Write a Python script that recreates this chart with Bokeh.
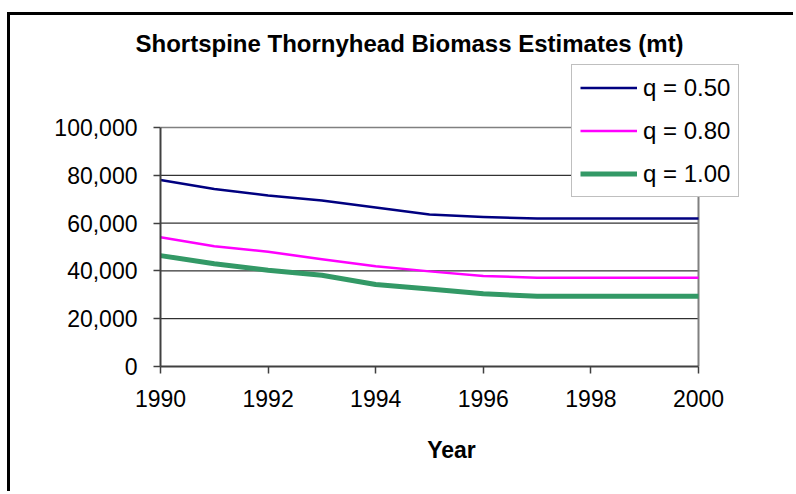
from bokeh.plotting import figure
from bokeh.models import (Legend, LegendItem, FixedTicker, ColumnDataSource,
                          Range1d)
from bokeh.embed import file_html
from bokeh.resources import INLINE

# ---- data ----
years = [1990, 1991, 1992, 1993, 1994, 1995, 1996, 1997, 1998, 1999, 2000]
q050 = [78000, 74300, 71500, 69500, 66500, 63600, 62600, 61900, 61900, 61900, 61900]
q080 = [54100, 50300, 48000, 44900, 41900, 39800, 37900, 37100, 37100, 37100, 37100]
q100 = [46400, 43000, 40300, 38200, 34300, 32400, 30400, 29400, 29400, 29400, 29400]

series_names = ["q = 0.50", "q = 0.80", "q = 1.00"]
x_ticks = [1990, 1992, 1994, 1996, 1998, 2000]
x_tick_labels = ["1990", "1992", "1994", "1996", "1998", "2000"]
y_ticks = [0, 20000, 40000, 60000, 80000, 100000]
y_tick_labels = ["0", "20,000", "40,000", "60,000", "80,000", "100,000"]
grid_ticks = [20000, 40000, 60000, 80000]

title_text = "Shortspine Thornyhead Biomass Estimates (mt)"
x_label = "Year"

FONT = "Liberation Sans"

# ---- layout (pixels) ----
W, H = 786, 479
FR_L, FR_R, FR_T, FR_B = 150, 732, 49, 351      # frame in canvas pixels
PA_R, PA_T = 688, 112                           # plot-area right / top in canvas px

x0, x1 = x_ticks[0], x_ticks[-1]
y0, y1 = y_ticks[0], y_ticks[-1]
x_end = x0 + (x1 - x0) * (FR_R - FR_L) / (PA_R - FR_L)
y_end = y0 + (y1 - y0) * (FR_B - FR_T) / (FR_B - PA_T)

source = ColumnDataSource(dict(year=years, a=q050, b=q080, c=q100))

p = figure(width=W, height=H, output_backend="svg", toolbar_location=None,
           x_range=Range1d(x0, x_end), y_range=Range1d(y0, y_end),
           min_border_left=FR_L, min_border_right=W - FR_R,
           min_border_top=FR_T, min_border_bottom=H - FR_B)
p.margin = (12, 0, 0, 7)
p.styles = {"border-left": "3px solid black", "border-top": "3px solid black"}

p.background_fill_color = "white"
p.border_fill_color = "white"
p.outline_line_color = None

# title
p.title.text = title_text
p.title.align = "left"
p.title.offset = -25
p.title.text_font = FONT
p.title.text_font_size = "24px"
p.title.text_font_style = "bold"
p.title.text_color = "black"
p.title.standoff = 16

# axes
for ax in (p.xaxis[0], p.yaxis[0]):
    ax.axis_line_color = "#404040"
    ax.axis_line_width = 2
    ax.major_tick_line_color = "#404040"
    ax.major_tick_line_width = 1.5
    ax.major_tick_in = 0
    ax.major_tick_out = 7
    ax.minor_tick_line_color = None
    ax.major_label_text_font = FONT
    ax.major_label_text_font_size = "23px"
    ax.major_label_text_color = "black"

p.xaxis.ticker = FixedTicker(ticks=x_ticks)
p.xaxis.bounds = (x0, x1)
p.xaxis.major_label_overrides = dict(zip(x_ticks, x_tick_labels))
p.xaxis.major_label_standoff = 16
p.xaxis.axis_label = x_label
p.xaxis.axis_label_text_font = FONT
p.xaxis.axis_label_text_font_size = "23px"
p.xaxis.axis_label_text_font_style = "bold"
p.xaxis.axis_label_text_color = "black"
p.xaxis.axis_label_standoff = 27

p.yaxis.ticker = FixedTicker(ticks=y_ticks)
p.yaxis.bounds = (y0, y1)
p.yaxis.major_label_overrides = dict(zip(y_ticks, y_tick_labels))
p.yaxis.major_label_standoff = 16

p.xgrid.visible = False
p.ygrid.visible = False

# grid lines (black) limited to the plot area
n = len(grid_ticks)
p.segment(x0=[x0] * n, y0=grid_ticks, x1=[x1] * n, y1=grid_ticks,
          line_color="black", line_width=1, level="underlay")
# plot-area border: gray top and right
p.segment(x0=[x0], y0=[y1], x1=[x1], y1=[y1],
          line_color="#808080", line_width=1.5, level="underlay")
p.segment(x0=[x1], y0=[y0], x1=[x1], y1=[y1],
          line_color="#808080", line_width=2, level="underlay")

# lines
r1 = p.line("year", "a", source=source, line_color="#000080", line_width=2.5, line_join="round")
r2 = p.line("year", "b", source=source, line_color="#FF00FF", line_width=2.5, line_join="round")
r3 = p.line("year", "c", source=source, line_color="#339966", line_width=5, line_join="round")

legend = Legend(items=[LegendItem(label=series_names[0], renderers=[r1]),
                       LegendItem(label=series_names[1], renderers=[r2]),
                       LegendItem(label=series_names[2], renderers=[r3])],
                location=(411, 169))
legend.border_line_color = "#808080"
legend.border_line_width = 1.5
legend.background_fill_color = "white"
legend.background_fill_alpha = 1
legend.label_text_font = FONT
legend.label_text_font_size = "24px"
legend.label_text_color = "black"
legend.glyph_width = 57
legend.glyph_height = 29
legend.label_height = 29
legend.label_standoff = 6
legend.spacing = 14
legend.padding = 8
legend.margin = 0
p.add_layout(legend, "center")

open("out.html", "w").write(file_html(p, INLINE))
